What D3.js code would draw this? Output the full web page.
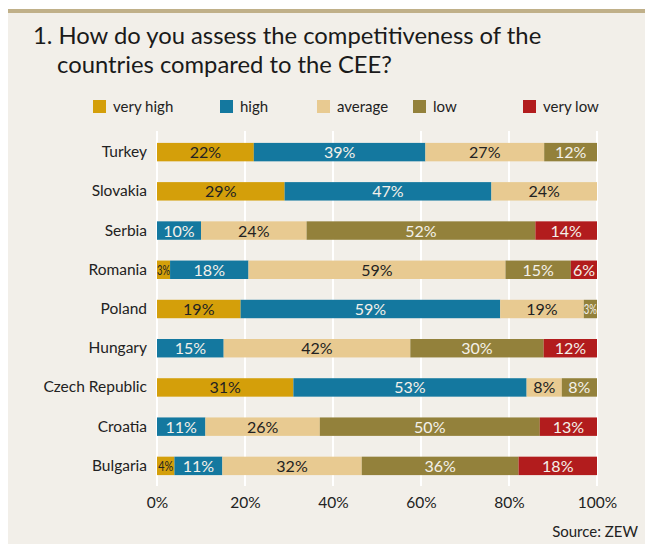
<!DOCTYPE html>
<html><head><meta charset="utf-8">
<script src="https://cdn.jsdelivr.net/npm/d3@7"></script>
<style>body{margin:0;background:#fff;}svg{display:block;}</style>
</head><body>
<script>
const countries = ["Turkey","Slovakia","Serbia","Romania","Poland","Hungary","Czech Republic","Croatia","Bulgaria"];
const seriesNames = ["very high","high","average","low","very low"];
const veryHigh = [22,29,0,3,19,0,31,0,4];
const high     = [39,47,10,18,59,15,53,11,11];
const average  = [27,24,24,59,19,42,8,26,32];
const low      = [12,0,52,15,3,30,8,50,36];
const veryLow  = [0,0,14,6,0,12,0,13,18];
const tickValues = [0,20,40,60,80,100];
const colors = ["#d49f0a","#14789f","#e8ca91","#93813b","#b21c1d"];
const labelColors = ["#222","#f4f1ea","#222","#f4f1ea","#f4f1ea"];
const seriesData = [veryHigh, high, average, low, veryLow];

const W = 645, H = 544;
const svg = d3.select("body").append("svg").attr("width", W).attr("height", H);
const font = "Lato, 'Noto Sans', sans-serif";

svg.append("rect").attr("x",8).attr("y",9).attr("width",W-8).attr("height",H-9).attr("fill","#f2efe9");
svg.append("rect").attr("x",8).attr("y",9).attr("width",W-8).attr("height",4).attr("fill","#c0b089");

const title = svg.append("text").attr("font-family",font).attr("font-size",23.8).attr("fill","#1a1a1a");
title.append("tspan").attr("x",33).attr("y",44).text("1. How do you assess the competitiveness of the");
title.append("tspan").attr("x",57).attr("y",73).text("countries compared to the CEE?");

const x = d3.scaleLinear().domain([0,100]).range([157,597]);
const y = d3.scaleBand().domain(countries).range([132.5,485.5]).paddingInner(0.53).paddingOuter(0.265);

// legend
const legendX = [93,220,317,413,523];
seriesNames.forEach((s,i)=>{
  const g = svg.append("g").attr("transform",`translate(${legendX[i]},100)`);
  g.append("rect").attr("width",13).attr("height",13).attr("fill",colors[i]);
  g.append("text").attr("x",20).attr("y",11.5).attr("font-family",font).attr("font-size",15).attr("fill","#222").text(s);
});

// gridlines
svg.append("g").selectAll("line").data(tickValues).join("line")
  .attr("x1",d=>x(d)).attr("x2",d=>x(d)).attr("y1",131).attr("y2",486)
  .attr("stroke","#fff").attr("stroke-width",2);

// stack
const rows = countries.map((c,i)=>{
  const o = {country:c};
  seriesNames.forEach((s,j)=>o[s]=seriesData[j][i]);
  return o;
});
const stack = d3.stack().keys(seriesNames).offset(d3.stackOffsetExpand);
const layers = stack(rows);

layers.forEach((layer,j)=>{
  const g = svg.append("g");
  layer.forEach((d,i)=>{
    const v = seriesData[j][i];
    if(!v) return;
    const x0 = x(d[0]*100), x1 = x(d[1]*100);
    g.append("rect").attr("x",x0).attr("y",y(countries[i])).attr("width",x1-x0).attr("height",y.bandwidth()).attr("fill",colors[j]);
    const small = v < 5;
    g.append("text").attr("x",(x0+x1)/2).attr("y",y(countries[i])+y.bandwidth()/2+(small?5:6))
      .attr("text-anchor","middle").attr("font-family",font).attr("font-size",small?14:16)
      .attr("textLength", small ? Math.min(x1-x0, 15) : null)
      .attr("lengthAdjust","spacingAndGlyphs")
      .attr("fill",labelColors[j]).text(v+"%");
  });
});

// country labels
const yAxis = svg.append("g").attr("transform","translate(157,0)")
  .call(d3.axisLeft(y).tickSize(0).tickPadding(10));
yAxis.select(".domain").remove();
yAxis.selectAll("text").attr("font-family",font).attr("font-size",15.5).attr("fill","#222");

// x axis
const xAxis = svg.append("g").attr("transform","translate(0,486)")
  .call(d3.axisBottom(x).tickValues(tickValues).tickFormat(d=>d+"%").tickSize(0).tickPadding(11));
xAxis.select(".domain").remove();
xAxis.selectAll("text").attr("font-family",font).attr("font-size",15.5).attr("fill","#222");

svg.append("text").attr("x",638).attr("y",537).attr("text-anchor","end").attr("font-family",font).attr("font-size",15).attr("fill","#222").text("Source: ZEW");
</script>
</body></html>
